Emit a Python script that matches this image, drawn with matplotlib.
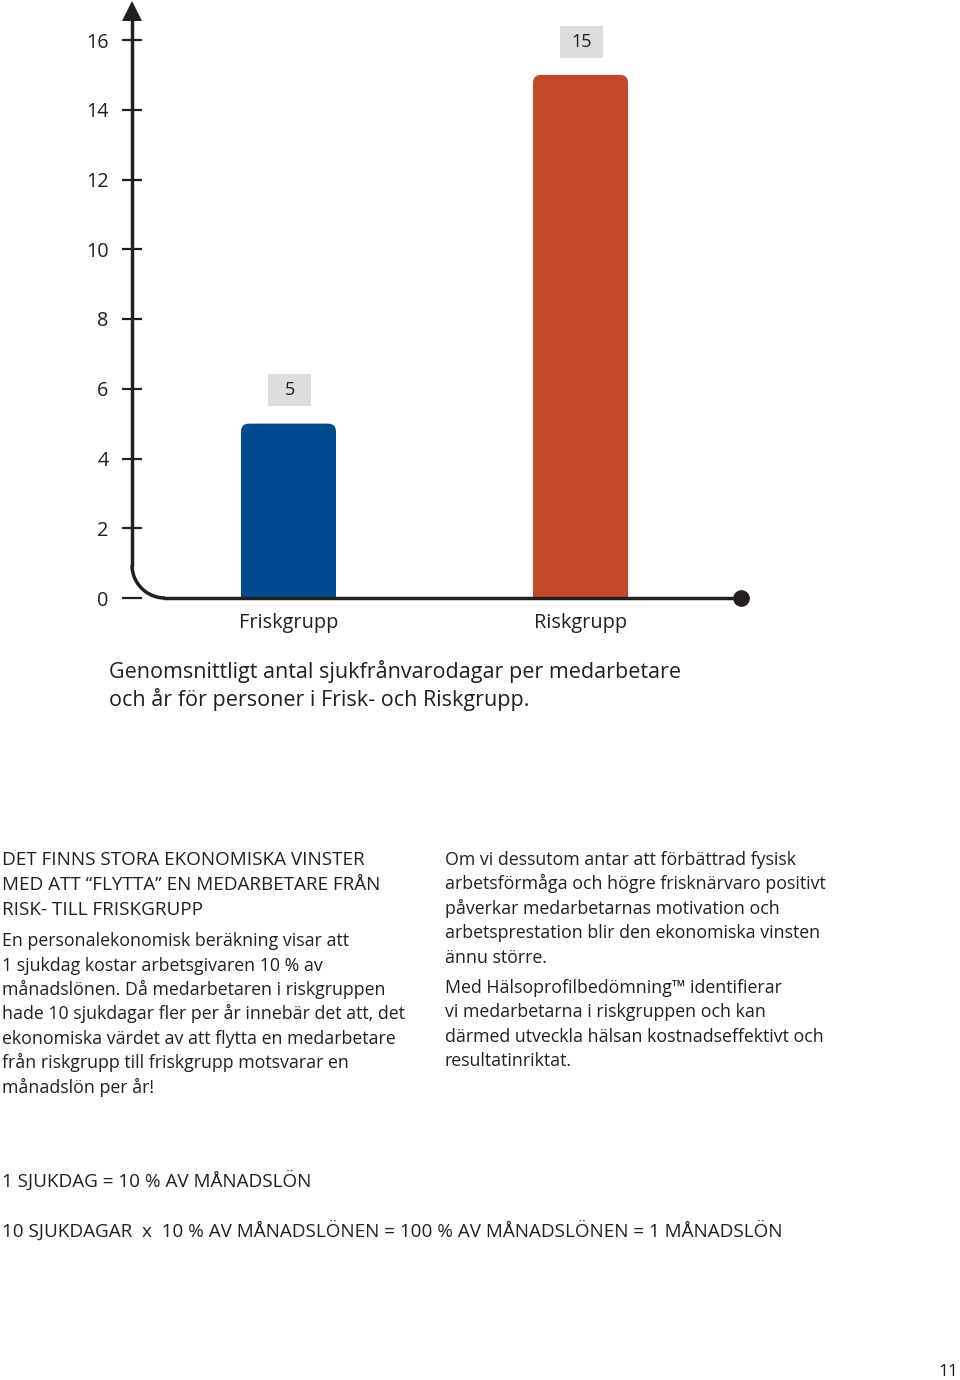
import matplotlib
matplotlib.use("Agg")
import matplotlib.pyplot as plt
import numpy as np
from matplotlib.patches import FancyBboxPatch, Rectangle

plt.rcParams['font.family'] = ['Open Sans', 'DejaVu Sans']

# data
categories = ["Friskgrupp", "Riskgrupp"]
values = [5, 15]
bar_colors = ["#004a8f", "#c4482b"]
yticks = [0, 2, 4, 6, 8, 10, 12, 14, 16]

caption = ["Genomsnittligt antal sjukfrånvarodagar per medarbetare",
           "och år för personer i Frisk- och Riskgrupp."]
heading_left = ["DET FINNS STORA EKONOMISKA VINSTER",
                "MED ATT \u201cFLYTTA\u201d EN MEDARBETARE FRÅN",
                "RISK- TILL FRISKGRUPP"]
body_left = ["En personalekonomisk beräkning visar att",
             "1 sjukdag kostar arbetsgivaren 10 % av",
             "månadslönen. Då medarbetaren i riskgruppen",
             "hade 10 sjukdagar fler per år innebär det att, det",
             "ekonomiska värdet av att flytta en medarbetare",
             "från riskgrupp till friskgrupp motsvarar en",
             "månadslön per år!"]
body_right_1 = ["Om vi dessutom antar att förbättrad fysisk",
                "arbetsförmåga och högre frisknärvaro positivt",
                "påverkar medarbetarnas motivation och",
                "arbetsprestation blir den ekonomiska vinsten",
                "ännu större."]
body_right_2 = ["Med Hälsoprofilbedömning\u2122 identifierar",
                "vi medarbetarna i riskgruppen och kan",
                "därmed utveckla hälsan kostnadseffektivt och",
                "resultatinriktat."]
formula_1 = "1 SJUKDAG = 10 % AV MÅNADSLÖN"
formula_2 = "10 SJUKDAGAR  x  10 % AV MÅNADSLÖNEN = 100 % AV MÅNADSLÖNEN = 1 MÅNADSLÖN"
page_no = "11"

W, H = 960, 1380
ink = "#231f20"

fig = plt.figure(figsize=(W / 100, H / 100), dpi=100)

# chart axes (pixel box 100..760 x 0..640)
px_x = 292.0      # pixels per category unit
px_y = 34.875     # pixels per value unit
ax = fig.add_axes([100 / W, 1 - 640 / H, 660 / W, 640 / H])
ax.set_xlim((100 - 288.5) / px_x, (760 - 288.5) / px_x)
ax.set_ylim((598 - 640) / px_y, 598 / px_y)
ax.patch.set_alpha(0)

x = np.arange(len(categories))
bw = 95 / px_x
x_axis = (132 - 288.5) / px_x
x_end = (741 - 288.5) / px_x
rx, ry = 33 / px_x, 33 / px_y

# bars with rounded tops
rad = 8 / px_x
for xi, v, c in zip(x, values, bar_colors):
    p = FancyBboxPatch((xi - bw / 2, 0), bw, v,
                       boxstyle=f"round,pad=0,rounding_size={rad}",
                       mutation_aspect=px_x / px_y, fc=c, ec="none", zorder=2)
    ax.add_patch(p)
    ax.add_patch(Rectangle((xi - bw / 2, 0), bw, v / 2, fc=c, ec="none", zorder=2))
    # value label in grey box
    yc = v + 0.95
    ax.add_patch(Rectangle((xi - 21 / px_x, yc - 16 / px_y), 43 / px_x, 32 / px_y,
                           fc="#dcdddd", ec="none", zorder=2))
    ax.text(xi + 1 / px_x, yc, str(v), ha="center", va="center", fontsize=13,
            color=ink, zorder=3)

# axes lines
for s in ["top", "right"]:
    ax.spines[s].set_visible(False)
ax.spines["left"].set_position(("data", x_axis))
ax.spines["left"].set_bounds(ry, 16.85)
ax.spines["left"].set_linewidth(2.5)
ax.spines["left"].set_color(ink)
ax.spines["bottom"].set_position(("data", 0))
ax.spines["bottom"].set_bounds(x_axis + rx, x_end)
ax.spines["bottom"].set_linewidth(2.5)
ax.spines["bottom"].set_color(ink)
ax.spines["left"].set_zorder(3)
ax.spines["bottom"].set_zorder(3)

t = np.linspace(np.pi, 1.5 * np.pi, 40)
ax.plot(x_axis + rx + rx * np.cos(t), ry + ry * np.sin(t), color=ink, lw=2.5,
        solid_capstyle="butt", zorder=3)
ax.plot([x_end], [0], "o", ms=11, color=ink, clip_on=False, zorder=4)
ax.plot([x_axis], [(598 - 11) / px_y], "^", ms=15, color=ink, clip_on=False, zorder=4,
        markeredgewidth=0)

ax.set_yticks(yticks)
ax.set_yticklabels([str(v) for v in yticks])
ax.tick_params(axis="y", direction="inout", length=15, width=1.6, color=ink,
               labelsize=14.3, labelcolor=ink, pad=9.5)
ax.set_xticks(x)
ax.set_xticklabels(categories)
ax.tick_params(axis="x", length=0, labelsize=14.3, labelcolor=ink, pad=11)

# caption
for i, line in enumerate(caption):
    fig.text(109 / W, 1 - (678 + i * 28) / H, line, fontsize=15.5, color=ink,
             va="baseline", ha="left")


def column(lines, x0, ys, size=12.8):
    for line, yy in zip(lines, ys):
        fig.text(x0 / W, 1 - (yy + 6) / H, line, fontsize=size, color=ink,
                 va="baseline", ha="left")


column(heading_left, 2, [859, 884, 909], size=13.6)
column(body_left, 2, [940, 965, 989, 1013, 1038, 1062, 1087])
column(body_right_1, 445, [859, 883, 908, 932, 957])
column(body_right_2, 445, [987, 1011, 1036, 1060])
column([formula_1], 2, [1181], size=13.6)
column([formula_2], 2, [1231], size=13.6)
fig.text(958 / W, 1 - 1376 / H, page_no, fontsize=12.5, color=ink, ha="right",
         va="baseline")

fig.savefig("out.png", dpi=100)
